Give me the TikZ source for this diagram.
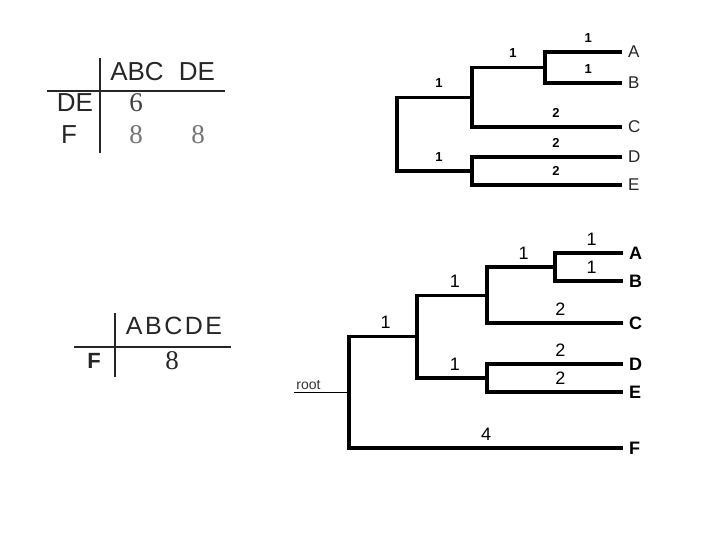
\documentclass[tikz,border=0pt]{standalone}
\usepackage{fontspec}
\newfontfamily\arialfont{Liberation Sans}
\newfontfamily\timesfont{Liberation Serif}
\usepackage{tikz}
\tikzset{
  rule/.style   = {line width=2pt, black!85},
  branch/.style = {line width=3.5pt, black},
  stub/.style   = {line width=0.8pt, black},
  hdr/.style    = {inner sep=1pt, text=black!85,
                   font=\arialfont\fontsize{26}{28}\selectfont},
  hdrwide/.style= {hdr, font=\arialfont\addfontfeature{LetterSpace=10}\fontsize{25}{27}\selectfont},
  cell/.style   = {inner sep=1pt, text=black!55,
                   font=\timesfont\fontsize{27}{29}\selectfont},
  tleaf/.style  = {anchor=west, inner sep=6pt, text=black!85,
                   font=\arialfont\fontsize{17}{19}\selectfont},
  bleaf/.style  = {tleaf, text=black,
                   font=\arialfont\bfseries\fontsize{18}{20}\selectfont},
  tlen/.style   = {above, pos=0.78, inner sep=8pt,
                   font=\arialfont\bfseries\fontsize{13}{15}\selectfont},
  blen/.style   = {above, pos=0.77, inner sep=6pt,
                   font=\arialfont\fontsize{18}{20}\selectfont},
  rootlbl/.style= {above right, inner sep=2pt, text=black!80,
                   font=\arialfont\fontsize{14}{16}\selectfont},
}
\begin{document}
\begin{tikzpicture}[x=1pt, y=-1pt]
  \useasboundingbox (0,0) rectangle (720,540);

  % Upper table
  \coordinate (u-vt) at (100,58);
  \coordinate (u-vb) at (100,153);
  \coordinate (u-hl) at (47,91);
  \coordinate (u-hr) at (225,91);
  \draw[rule] (u-vt) -- (u-vb);
  \draw[rule] (u-hl) -- (u-hr);
  \node[hdr]  (u-abc) at (137,72)  {ABC};
  \node[hdr]  (u-de)  at (197,72)  {DE};
  \node[hdr]  (u-rde) at (75,103)  {DE};
  \node[hdr]  (u-rf)  at (69,135)  {F};
  \node[cell, text=black!75] (u-c1) at (136,103) {6};
  \node[cell] (u-c2)  at (136,135) {8};
  \node[cell] (u-c3)  at (198,135) {8};

  % Lower table
  \coordinate (l-vt) at (115,313);
  \coordinate (l-vb) at (115,377);
  \coordinate (l-hl) at (74,347);
  \coordinate (l-hr) at (231,347);
  \draw[rule] (l-vt) -- (l-vb);
  \draw[rule] (l-hl) -- (l-hr);
  \node[hdrwide] (l-abcde) at (174,326) {ABCDE};
  \node[hdr, font=\arialfont\bfseries\fontsize{22}{24}\selectfont]
        (l-rf) at (94,361) {F};
  \node[cell, text=black!85] (l-c1) at (172,361) {8};

  % Upper tree
  \coordinate (t-root) at (397,135.5);
  \coordinate (t-abc)  at (472,97.5);
  \coordinate (t-ab)   at (545,67.5);
  \coordinate (t-de)   at (472,171);
  \node[tleaf] (tA) at (622,52)  {A};
  \node[tleaf] (tB) at (622,83)  {B};
  \node[tleaf] (tC) at (622,127) {C};
  \node[tleaf] (tD) at (622,157) {D};
  \node[tleaf] (tE) at (622,185) {E};
  \foreach \p/\c/\w in {t-root/t-abc/1, t-root/t-de/1, t-abc/t-ab/1,
                        t-ab/tA/1, t-ab/tB/1, t-abc/tC/2,
                        t-de/tD/2, t-de/tE/2}
    \draw[branch] (\p) |- node[tlen] {\w} (\c);

  % Lower tree
  \coordinate (b-stub)  at (294,392);
  \coordinate (b-root)  at (349,392);
  \coordinate (b-abcde) at (417,336.5);
  \coordinate (b-abc)   at (487,295.5);
  \coordinate (b-ab)    at (555,267);
  \coordinate (b-de)    at (487,378);
  \node[bleaf] (bA) at (623,253) {A};
  \node[bleaf] (bB) at (623,281) {B};
  \node[bleaf] (bC) at (623,323) {C};
  \node[bleaf] (bD) at (623,364) {D};
  \node[bleaf] (bE) at (623,392) {E};
  \node[bleaf] (bF) at (623,448) {F};
  \draw[stub] (b-stub) -- node[pos=0, rootlbl] {root} (b-root);
  \foreach \p/\c/\w in {b-root/b-abcde/1, b-abcde/b-abc/1, b-abcde/b-de/1,
                        b-abc/b-ab/1, b-ab/bA/1, b-ab/bB/1, b-abc/bC/2,
                        b-de/bD/2, b-de/bE/2}
    \draw[branch] (\p) |- node[blen] {\w} (\c);
  \draw[branch] (b-root) |- node[blen, pos=0.75] {4} (bF);
\end{tikzpicture}
\end{document}
